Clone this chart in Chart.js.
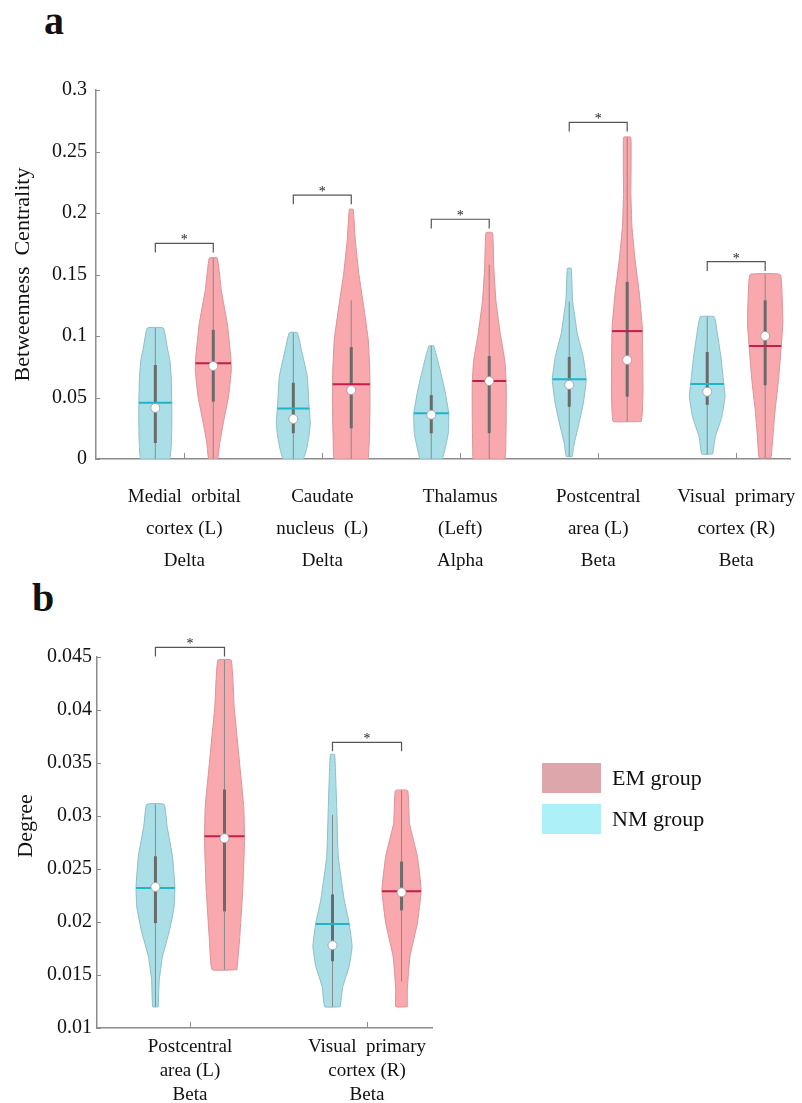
<!DOCTYPE html>
<html>
<head>
<meta charset="utf-8">
<script src="https://cdn.jsdelivr.net/npm/chart.js@4.4.1/dist/chart.umd.min.js"></script>
<style>
    body { margin: 0; background: #fff; width: 802px; height: 1103px; position: relative; overflow: hidden; font-family: "Liberation Serif", "Times New Roman", serif; color: #111; }
    canvas { position: absolute; left: 0; }
    #chartA { top: 0; }
    #chartB { top: 580px; }
    .tag { position: absolute; font-weight: bold; font-size: 40px; line-height: 40px; }
    .key { position: absolute; left: 542px; width: 59px; height: 30px; }
    .keytxt { position: absolute; left: 612px; font-size: 22px; line-height: 22px; white-space: nowrap; }
</style>
</head>
<body>
<div class="tag" style="left:44px;top:1px">a</div>
<div class="tag" style="left:32px;top:578px">b</div>
<canvas id="chartA" width="802" height="580"></canvas>
<canvas id="chartB" width="802" height="523"></canvas>
<div class="key" style="top:763px;background:#dca6ab"></div>
<div class="keytxt" style="top:767px">EM group</div>
<div class="key" style="top:804px;background:#aef0f8"></div>
<div class="keytxt" style="top:808px">NM group</div>
<script>
// ---------- panel a : betweenness centrality ----------
const regionsA = [
    ["Medial  orbital", "cortex (L)", "Delta"],
    ["Caudate", "nucleus  (L)", "Delta"],
    ["Thalamus", "(Left)", "Alpha"],
    ["Postcentral", "area (L)", "Beta"],
    ["Visual  primary", "cortex (R)", "Beta"]
];
const catA = [1, 2, 3, 4, 5];
const yTicksA = [0, 0.05, 0.1, 0.15, 0.2, 0.25, 0.3];

// violin outlines: value levels and relative density (1 = widest)
const nmLevelsA = [
    [0, 0.01, 0.025, 0.045, 0.065, 0.08, 0.09, 0.1065],
    [0, 0.007, 0.018, 0.029, 0.045, 0.067, 0.089, 0.1027],
    [0, 0.007, 0.021, 0.037, 0.056, 0.075, 0.0919],
    [0.002, 0.013, 0.026, 0.045, 0.064, 0.083, 0.102, 0.129, 0.155],
    [0.004, 0.018, 0.034, 0.0507, 0.067, 0.083, 0.105, 0.1157]
];
const nmDensityA = [
    [0.83, 0.91, 0.94, 0.94, 0.91, 0.83, 0.69, 0.46],
    [0.57, 0.74, 0.89, 0.97, 0.89, 0.8, 0.46, 0.23],
    [0.63, 0.77, 0.97, 1.0, 0.77, 0.46, 0.14],
    [0.17, 0.29, 0.51, 0.8, 0.97, 0.8, 0.46, 0.19, 0.11],
    [0.31, 0.46, 0.83, 1.02, 0.9, 0.78, 0.55, 0.4]
];
const emLevelsA = [
    [0, 0.013, 0.029, 0.05, 0.072, 0.083, 0.11, 0.137, 0.1634],
    [0, 0.015, 0.042, 0.07, 0.097, 0.124, 0.151, 0.178, 0.203],
    [0, 0.007, 0.034, 0.062, 0.08, 0.102, 0.129, 0.156, 0.184],
    [0.0304, 0.037, 0.0534, 0.08, 0.1076, 0.135, 0.162, 0.189, 0.216, 0.2615],
    [0.001, 0.018, 0.04, 0.064, 0.0886, 0.11, 0.132, 0.15]
];
const emDensityA = [
    [0.26, 0.37, 0.57, 0.86, 1.03, 1.0, 0.8, 0.46, 0.23],
    [0.97, 1.03, 1.07, 1.06, 0.97, 0.71, 0.43, 0.23, 0.11],
    [0.91, 0.94, 0.97, 0.97, 0.89, 0.63, 0.38, 0.26, 0.19],
    [0.8, 0.86, 0.9, 0.89, 0.86, 0.69, 0.45, 0.27, 0.21, 0.21],
    [0.34, 0.44, 0.57, 0.76, 0.9, 1.01, 0.97, 0.86]
];
const nmMedianA = [0.0458, 0.041, 0.0371, 0.0648, 0.061];
const emMedianA = [0.0778, 0.0607, 0.0634, 0.104, 0.0919];
const nmMeanA = [0.0415, 0.0325, 0.036, 0.0603, 0.0547];
const emMeanA = [0.0756, 0.056, 0.0634, 0.0805, 0.1];
const nmQ1A = [0.013, 0.021, 0.0209, 0.0425, 0.044];
const nmQ3A = [0.0764, 0.062, 0.052, 0.083, 0.087];
const emQ1A = [0.0466, 0.025, 0.021, 0.0507, 0.06];
const emQ3A = [0.105, 0.091, 0.0837, 0.144, 0.129];
const nmLowA = [0, 0, 0, 0.002, 0.004];
const nmHighA = [0.1065, 0.1027, 0.0919, 0.128, 0.1157];
const emLowA = [0, 0, 0, 0.0304, 0.001];
const emHighA = [0.1634, 0.129, 0.158, 0.2615, 0.15];
const bracketA = [0.1753, 0.2146, 0.1949, 0.2737, 0.1604];

// ---------- panel b : degree ----------
const regionsB = [
    ["Postcentral", "area (L)", "Beta"],
    ["Visual  primary", "cortex (R)", "Beta"]
];
const catB = [1, 2];
const yTicksB = [0.01, 0.015, 0.02, 0.025, 0.03, 0.035, 0.04, 0.045];

const nmLevelsB = [
    [0.012, 0.0145, 0.0167, 0.0192, 0.0214, 0.0233, 0.0262, 0.029, 0.0311],
    [0.012, 0.0139, 0.0158, 0.0177, 0.0199, 0.0221, 0.0262, 0.0309, 0.0358]
];
const nmDensityB = [
    [0.14, 0.19, 0.35, 0.71, 0.94, 0.98, 0.86, 0.59, 0.44],
    [0.39, 0.52, 0.84, 0.99, 0.84, 0.59, 0.29, 0.21, 0.11]
];
const emLevelsB = [
    [0.0155, 0.0183, 0.023, 0.0277, 0.0309, 0.0356, 0.0403, 0.0447],
    [0.012, 0.0136, 0.0167, 0.0199, 0.023, 0.0262, 0.0293, 0.0324]
];
const emDensityB = [
    [0.63, 0.76, 0.92, 1.01, 0.97, 0.73, 0.49, 0.34],
    [0.29, 0.29, 0.42, 0.8, 0.99, 0.8, 0.4, 0.31]
];
const nmMedianB = [0.0232, 0.0198];
const emMedianB = [0.0281, 0.0229];
const nmMeanB = [0.0233, 0.0178];
const emMeanB = [0.0279, 0.0228];
const nmQ1B = [0.0199, 0.0163];
const nmQ3B = [0.0262, 0.0226];
const emQ1B = [0.021, 0.0211];
const emQ3B = [0.0325, 0.0257];
const nmLowB = [0.012, 0.012];
const nmHighB = [0.0311, 0.0301];
const emLowB = [0.0155, 0.0144];
const emHighB = [0.0447, 0.0324];
const bracketB = [0.0459, 0.03695];

const FONT = "'Liberation Serif', 'Times New Roman', serif";
const nmLook = { fill: "#abdfe8", edge: "#8fbcc3", median: "#1fb4c8" };
const emLook = { fill: "#f9a8ad", edge: "#d89497", median: "#c21d4e" };

function halfWidthAt(levels, density, v) {
    for (let i = 1; i < levels.length; i++) {
        if (v <= levels[i]) {
            const t = (v - levels[i - 1]) / (levels[i] - levels[i - 1]);
            return density[i - 1] + t * (density[i] - density[i - 1]);
        }
    }
    return density[density.length - 1];
}

function violin(c, levels, density, w, s, look) {
    const right = levels.map((y, i) => ({ x: c + density[i] * w, y }));
    const left = levels.map((y, i) => ({ x: c - density[i] * w, y })).reverse();
    const hm = halfWidthAt(levels, density, s.median) * w;
    return [
        { data: right.concat(left, [right[0]]), fill: "shape", backgroundColor: look.fill,
          borderColor: look.edge, borderWidth: 1, tension: 0.1, order: 6 },
        { data: [{ x: c, y: s.low }, { x: c, y: s.high }], borderColor: "#8a8a8a", borderWidth: 1, order: 5 },
        { data: [{ x: c, y: s.q1 }, { x: c, y: s.q3 }], borderColor: "#6a6a6a", borderWidth: 3, order: 4 },
        { data: [{ x: c - hm, y: s.median }, { x: c + hm, y: s.median }], borderColor: look.median, borderWidth: 2, order: 3 },
        { data: [{ x: c, y: s.mean }], showLine: false, pointRadius: 4.5, pointBackgroundColor: "#fff",
          pointBorderColor: "#999", pointBorderWidth: 0.8, order: 2 }
    ];
}

function panelDatasets(p) {
    let sets = [];
    p.cats.forEach((cat, i) => {
        const cn = cat - p.shift, ce = cat + p.shift;
        sets = sets.concat(violin(cn, p.nmLevels[i], p.nmDensity[i], p.width,
            { median: p.nmMedian[i], mean: p.nmMean[i], q1: p.nmQ1[i], q3: p.nmQ3[i], low: p.nmLow[i], high: p.nmHigh[i] }, nmLook));
        sets = sets.concat(violin(ce, p.emLevels[i], p.emDensity[i], p.width,
            { median: p.emMedian[i], mean: p.emMean[i], q1: p.emQ1[i], q3: p.emQ3[i], low: p.emLow[i], high: p.emHigh[i] }, emLook));
        const h = p.brackets[i];
        sets.push({ isBracket: true, data: [{ x: cn, y: h - p.leg }, { x: cn, y: h }, { x: ce, y: h }, { x: ce, y: h - p.leg }],
            borderColor: "#555", borderWidth: 1.2, clip: false, order: 1 });
    });
    return sets;
}

// MATLAB style ticks pointing into the plot
const innerTicks = {
    id: "innerTicks",
    afterDraw(chart) {
        const { ctx, chartArea: a, scales: { x, y } } = chart;
        ctx.save();
        ctx.strokeStyle = "#8c8c8c";
        ctx.lineWidth = 1;
        ctx.beginPath();
        x.ticks.forEach(t => {
            const px = Math.round(x.getPixelForValue(t.value)) + 0.5;
            ctx.moveTo(px, a.bottom);
            ctx.lineTo(px, a.bottom - 6);
        });
        y.ticks.forEach(t => {
            const py = Math.round(y.getPixelForValue(t.value)) + 0.5;
            ctx.moveTo(a.left, py);
            ctx.lineTo(a.left + 4, py);
        });
        ctx.stroke();
        ctx.restore();
    }
};

const starMarks = {
    id: "starMarks",
    afterDatasetsDraw(chart) {
        const { ctx, scales: { x, y } } = chart;
        ctx.save();
        ctx.fillStyle = "#222";
        ctx.font = "14px " + FONT;
        ctx.textAlign = "center";
        ctx.textBaseline = "alphabetic";
        chart.data.datasets.filter(d => d.isBracket).forEach(d => {
            const px = (x.getPixelForValue(d.data[1].x) + x.getPixelForValue(d.data[2].x)) / 2;
            ctx.fillText("*", px, y.getPixelForValue(d.data[1].y) + 1);
        });
        ctx.restore();
    }
};

function panelOptions(p) {
    return {
        responsive: false,
        animation: false,
        events: [],
        layout: { padding: p.padding },
        plugins: { legend: { display: false }, tooltip: { enabled: false } },
        elements: { point: { radius: 0 }, line: { tension: 0 } },
        scales: {
            x: {
                type: "linear", min: p.xMin, max: p.xMax,
                grid: { display: false, drawTicks: false },
                border: { color: "#8c8c8c", width: 1.5 },
                afterBuildTicks: s => { s.ticks = p.cats.map(v => ({ value: v })); },
                afterFit: s => { s.height = p.xHeight; s.paddingLeft = 0; s.paddingRight = 0; },
                ticks: {
                    padding: p.xPad, color: "#111", maxRotation: 0, autoSkip: false,
                    font: { family: FONT, size: 19, lineHeight: p.lineH },
                    callback: v => p.labels[Math.round(v) - 1]
                }
            },
            y: {
                min: p.yMin, max: p.yMax,
                grid: { display: false, drawTicks: false },
                border: { color: "#8c8c8c", width: 1.5 },
                afterBuildTicks: s => { s.ticks = p.yTicks.map(v => ({ value: v })); },
                afterFit: s => { s.width = p.yWidth; s.paddingTop = 0; s.paddingBottom = 0; },
                ticks: {
                    padding: p.yPad, color: "#111",
                    font: { family: FONT, size: 20 },
                    callback: v => String(+v.toFixed(4))
                },
                title: {
                    display: true, text: p.title, color: "#111",
                    font: { family: FONT, size: 22 },
                    padding: { top: p.titlePad, bottom: 0 }
                }
            }
        }
    };
}

const panelA = {
    cats: catA, labels: regionsA, yTicks: yTicksA, shift: 0.21, width: 0.127, leg: 0.0075,
    nmLevels: nmLevelsA, nmDensity: nmDensityA, emLevels: emLevelsA, emDensity: emDensityA,
    nmMedian: nmMedianA, emMedian: emMedianA, nmMean: nmMeanA, emMean: emMeanA,
    nmQ1: nmQ1A, nmQ3: nmQ3A, emQ1: emQ1A, emQ3: emQ3A,
    nmLow: nmLowA, nmHigh: nmHighA, emLow: emLowA, emHigh: emHighA, brackets: bracketA,
    xMin: 0.36, xMax: 5.39, yMin: 0, yMax: 0.3,
    padding: { top: 90, right: 12, left: 0, bottom: 0 },
    xHeight: 121, yWidth: 96, xPad: 22, lineH: "32px", yPad: 9, titlePad: 10,
    title: "Betweenness  Centrality"
};

const panelB = {
    cats: catB, labels: regionsB, yTicks: yTicksB, shift: 0.195, width: 0.112, leg: 0.00085,
    nmLevels: nmLevelsB, nmDensity: nmDensityB, emLevels: emLevelsB, emDensity: emDensityB,
    nmMedian: nmMedianB, emMedian: emMedianB, nmMean: nmMeanB, emMean: emMeanB,
    nmQ1: nmQ1B, nmQ3: nmQ3B, emQ1: emQ1B, emQ3: emQ3B,
    nmLow: nmLowB, nmHigh: nmHighB, emLow: emLowB, emHigh: emHighB, brackets: bracketB,
    xMin: 0.475, xMax: 2.367, yMin: 0.01, yMax: 0.045,
    padding: { top: 77, right: 370, left: 0, bottom: 0 },
    xHeight: 75, yWidth: 97, xPad: 7, lineH: "24px", yPad: 5, titlePad: 13,
    title: "      Degree"
};

new Chart(document.getElementById("chartA"), {
    type: "line",
    data: { datasets: panelDatasets(panelA) },
    options: panelOptions(panelA),
    plugins: [innerTicks, starMarks]
});

new Chart(document.getElementById("chartB"), {
    type: "line",
    data: { datasets: panelDatasets(panelB) },
    options: panelOptions(panelB),
    plugins: [innerTicks, starMarks]
});
</script>
</body>
</html>
